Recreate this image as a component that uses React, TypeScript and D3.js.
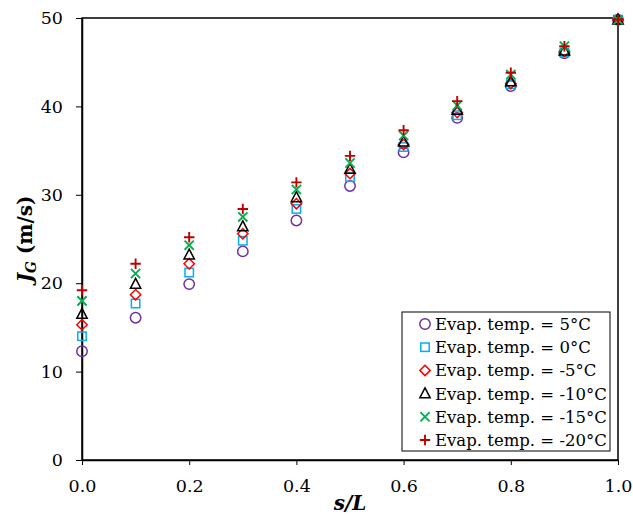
import React, { useEffect, useRef } from "react";
import * as d3 from "d3";

const width = 633;
const height = 515;
const space = { left: 82, right: 15, top: 18, bottom: 55 };

const positions = [0, 0.1, 0.2, 0.3, 0.4, 0.5, 0.6, 0.7, 0.8, 0.9, 1.0];
const evap5 = [12.3, 16.1, 19.9, 23.6, 27.1, 31.0, 34.8, 38.7, 42.3, 46.0, 49.8];
const evap0 = [14.0, 17.7, 21.2, 24.8, 28.4, 32.0, 35.4, 39.0, 42.5, 46.1, 49.8];
const evapM5 = [15.3, 18.7, 22.2, 25.6, 29.0, 32.4, 35.7, 39.3, 42.6, 46.2, 49.8];
const evapM10 = [16.5, 19.9, 23.2, 26.4, 29.7, 32.9, 36.0, 39.6, 42.8, 46.3, 49.8];
const evapM15 = [18.0, 21.1, 24.3, 27.5, 30.6, 33.6, 36.7, 40.1, 43.6, 46.8, 49.8];
const evapM20 = [19.2, 22.2, 25.2, 28.4, 31.4, 34.4, 37.3, 40.6, 43.8, 46.8, 49.8];
const seriesNames = [
  "Evap. temp. = 5°C",
  "Evap. temp. = 0°C",
  "Evap. temp. = -5°C",
  "Evap. temp. = -10°C",
  "Evap. temp. = -15°C",
  "Evap. temp. = -20°C",
];
const xTicks = [0, 0.2, 0.4, 0.6, 0.8, 1.0];
const yTicks = [0, 10, 20, 30, 40, 50];

const series = [
  { name: seriesNames[0], values: evap5, shape: "circle", color: "#7030A0" },
  { name: seriesNames[1], values: evap0, shape: "square", color: "#00B0F0" },
  { name: seriesNames[2], values: evapM5, shape: "diamond", color: "#FF0000" },
  { name: seriesNames[3], values: evapM10, shape: "triangle", color: "#000000" },
  { name: seriesNames[4], values: evapM15, shape: "cross", color: "#00B050" },
  { name: seriesNames[5], values: evapM20, shape: "plus", color: "#C00000" },
];

const font = "'DejaVu Serif', serif";

// draw one marker centred at (cx, cy)
const marker = (g: any, shape: string, color: string, cx: number, cy: number) => {
  const m = g.append("g").attr("transform", `translate(${cx},${cy})`)
    .attr("fill", "none").attr("stroke", color).attr("stroke-width", 1.5);
  if (shape === "circle") m.append("circle").attr("r", 5.2);
  if (shape === "square") m.append("rect").attr("x", -4.2).attr("y", -4.2).attr("width", 8.4).attr("height", 8.4);
  if (shape === "diamond") m.append("path").attr("d", "M0,-5.2L5.2,0L0,5.2L-5.2,0Z");
  if (shape === "triangle") m.append("path").attr("d", "M0,-5.8L5.2,4.2L-5.2,4.2Z");
  if (shape === "cross") m.append("path").attr("d", "M-4.6,-4.6L4.6,4.6M-4.6,4.6L4.6,-4.6").attr("stroke-width", 1.9);
  if (shape === "plus") m.append("path").attr("d", "M-5.2,0L5.2,0M0,-5.2L0,5.2").attr("stroke-width", 1.9);
};

const App = () => {
  const ref = useRef<SVGSVGElement>(null);

  useEffect(() => {
    const svg = d3.select(ref.current);
    svg.selectAll("*").remove();

    const x = d3.scaleLinear().domain([0, 1]).range([space.left, width - space.right]);
    const y = d3.scaleLinear().domain([0, 50]).range([height - space.bottom, space.top]);

    // frame
    svg.append("rect")
      .attr("x", x(0)).attr("y", y(50))
      .attr("width", x(1) - x(0)).attr("height", y(0) - y(50))
      .attr("fill", "none").attr("stroke", "#000").attr("stroke-width", 1.5);

    const xAxis = svg.append("g")
      .attr("transform", `translate(0,${y(0)})`)
      .call(d3.axisBottom(x).tickValues(xTicks).tickFormat(d3.format(".1f")).tickSize(5).tickSizeOuter(0));
    xAxis.select(".domain").attr("stroke-width", 1.5);
    xAxis.selectAll("text").attr("font-family", font).attr("font-size", 17.5)
      .attr("y", 26).attr("dy", "0.35em").attr("fill", "#000");

    const yAxis = svg.append("g")
      .attr("transform", `translate(${x(0)},0)`)
      .call(d3.axisLeft(y).tickValues(yTicks).tickSize(6).tickSizeOuter(0));
    yAxis.select(".domain").attr("stroke-width", 1.5);
    yAxis.selectAll("text").attr("font-family", font).attr("font-size", 17.5).attr("x", -19).attr("fill", "#000");

    // points
    const pts = svg.append("g");
    series.forEach((s) => {
      s.values.forEach((v, i) => marker(pts, s.shape, s.color, x(positions[i]), y(v)));
    });

    // axis titles
    const yt = svg.append("text")
      .attr("transform", `translate(32,${(y(0) + y(50)) / 2}) rotate(-90)`)
      .attr("text-anchor", "middle")
      .attr("font-family", font).attr("font-size", 20).attr("font-weight", "bold");
    yt.append("tspan").attr("font-style", "italic").text("J");
    yt.append("tspan").attr("font-style", "italic").attr("font-size", 14).attr("dy", 4).text("G");
    yt.append("tspan").attr("dy", -4).text(" (m/s)");

    svg.append("text")
      .attr("x", (x(0) + x(1)) / 2).attr("y", 510)
      .attr("text-anchor", "middle")
      .attr("font-family", font).attr("font-size", 20)
      .attr("font-weight", "bold").attr("font-style", "italic")
      .text("s/L");

    // legend
    const lg = svg.append("g");
    lg.append("rect").attr("x", 402).attr("y", 312).attr("width", 208).attr("height", 139)
      .attr("fill", "#fff").attr("stroke", "#000").attr("stroke-width", 1);
    series.forEach((s, i) => {
      const cy = 324 + i * 23.2;
      marker(lg, s.shape, s.color, 425, cy);
      lg.append("text").attr("x", 435).attr("y", cy).attr("dy", "0.36em")
        .attr("font-family", font).attr("font-size", 16.5).text(s.name);
    });
  }, []);

  return (
    <svg ref={ref} width={width} height={height}
      style={{ position: "absolute", left: 0, top: 0, background: "#fff" }} />
  );
};

export default App;
